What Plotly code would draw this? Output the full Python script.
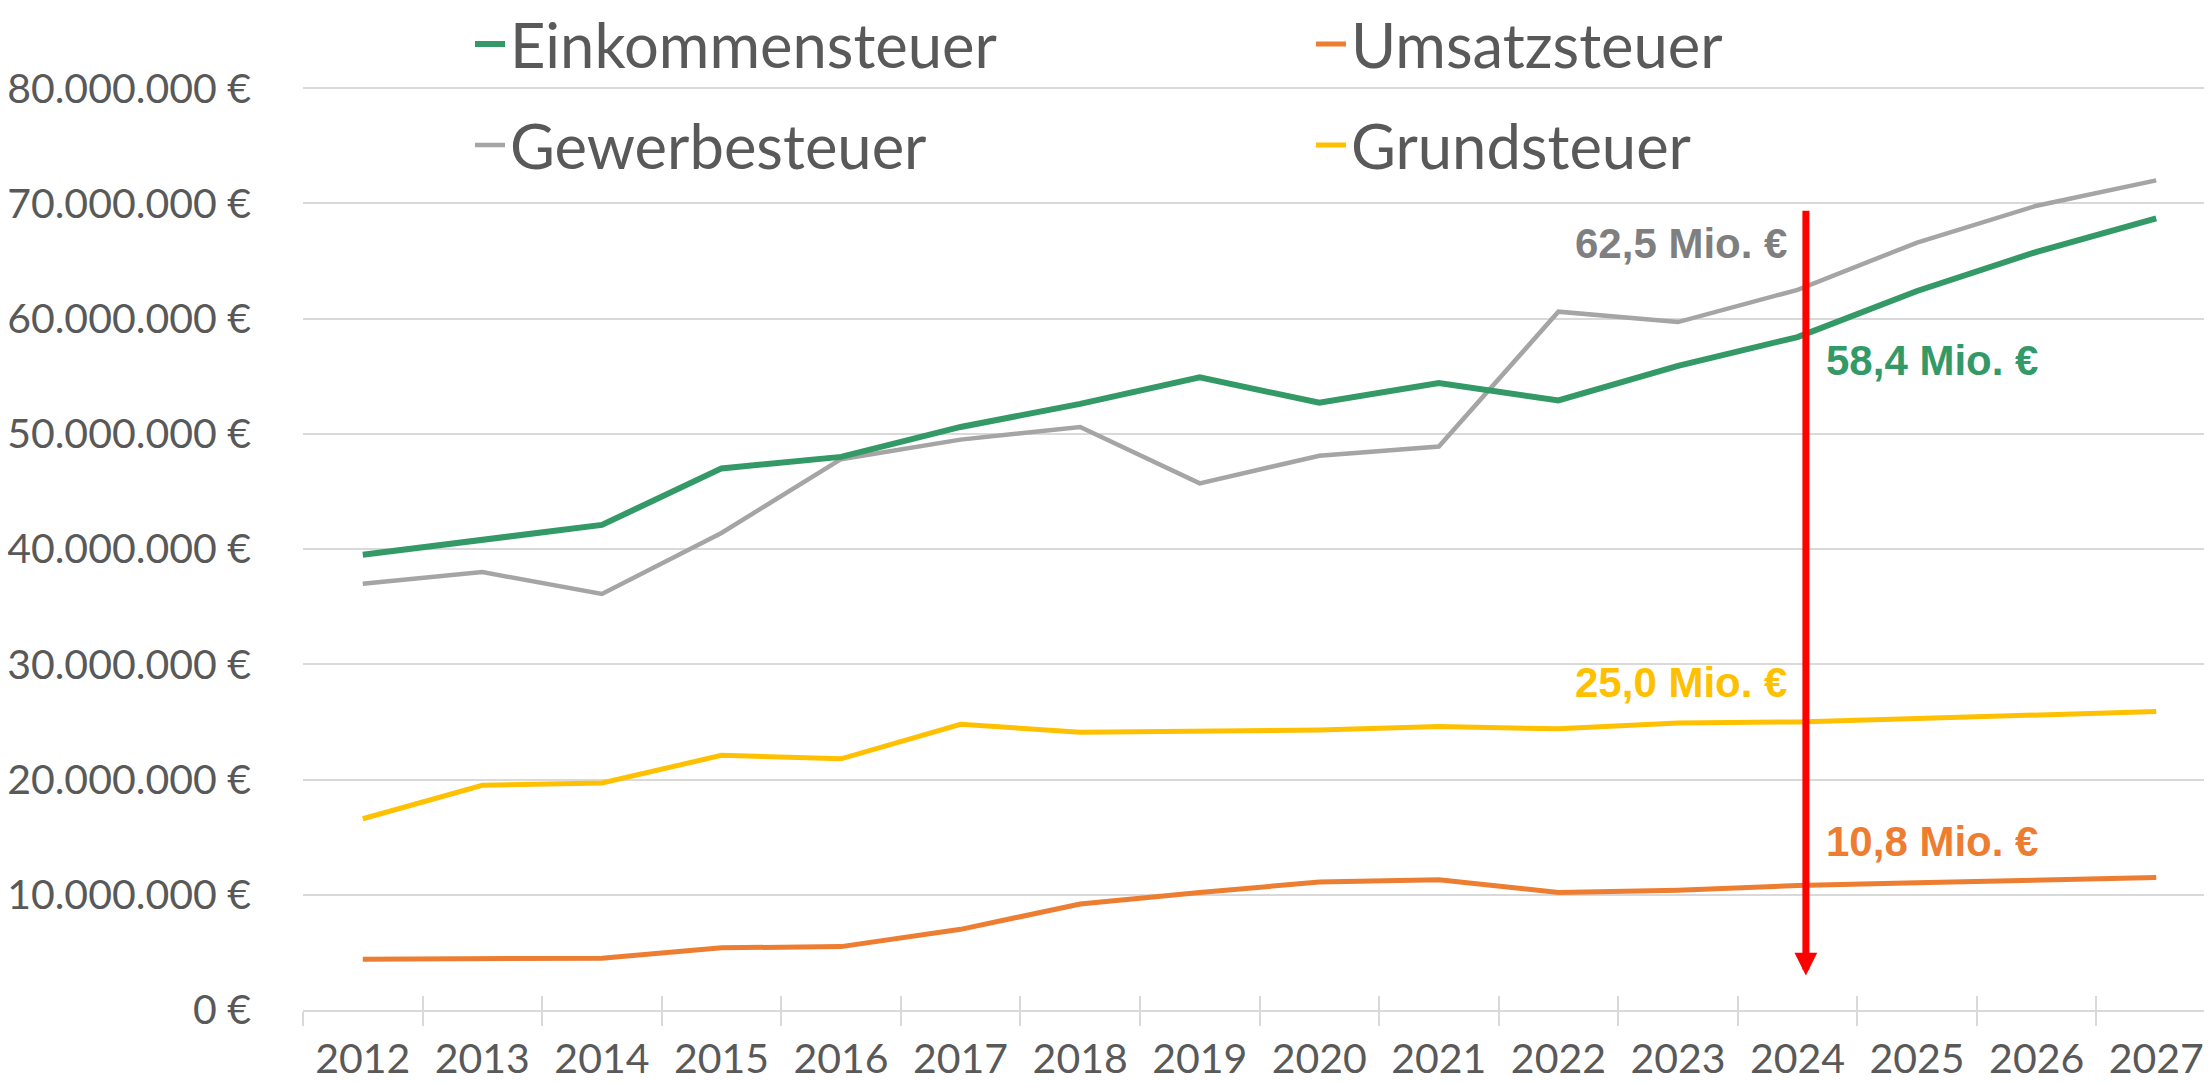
import plotly.graph_objects as go

years = [str(y) for y in range(2012, 2028)]
einkommensteuer = [39.5, 40.8, 42.1, 47.0, 48.0, 50.6, 52.6, 54.9, 52.7, 54.4, 52.9, 55.9, 58.4, 62.4, 65.8, 68.7]
umsatzsteuer = [4.4, 4.45, 4.5, 5.4, 5.5, 7.0, 9.2, 10.2, 11.1, 11.3, 10.2, 10.4, 10.8, 11.05, 11.3, 11.5]
gewerbesteuer = [37.0, 38.0, 36.1, 41.4, 47.8, 49.5, 50.6, 45.7, 48.1, 48.9, 60.6, 59.7, 62.5, 66.6, 69.8, 72.0]
grundsteuer = [16.6, 19.5, 19.7, 22.1, 21.8, 24.8, 24.1, 24.2, 24.3, 24.6, 24.4, 24.9, 25.0, 25.3, 25.6, 25.9]
y_ticks = [0, 10, 20, 30, 40, 50, 60, 70, 80]
y_tick_labels = ["0 €", "10.000.000 €", "20.000.000 €", "30.000.000 €", "40.000.000 €",
                 "50.000.000 €", "60.000.000 €", "70.000.000 €", "80.000.000 €"]

MIO = 1_000_000
GREEN = "#339966"
ORANGE = "#ED7D31"
GRAY = "#A5A5A5"
YELLOW = "#FFC000"
TXT = "#595959"
FONT = "Lato, 'Noto Sans', sans-serif"
NARROW = "'Liberation Sans Narrow', 'Arial Narrow', 'Liberation Sans', sans-serif"

fig = go.Figure()
series = [
    ("Einkommensteuer", einkommensteuer, GREEN, 6, "legend"),
    ("Umsatzsteuer", umsatzsteuer, ORANGE, 5, "legend2"),
    ("Gewerbesteuer", gewerbesteuer, GRAY, 4.5, "legend3"),
    ("Grundsteuer", grundsteuer, YELLOW, 5, "legend4"),
]
# draw order: gray below green
for name, vals, col, w, lg in [series[2], series[3], series[1], series[0]]:
    fig.add_trace(go.Scatter(
        x=years, y=[v * MIO for v in vals], name=name, mode="lines",
        line=dict(color=col, width=w), legend=lg, xaxis="x", yaxis="y"))

# invisible trace for the crossing tick marks on an overlay axis
fig.add_trace(go.Scatter(x=years, y=[None] * len(years), xaxis="x2", yaxis="y",
                         showlegend=False, hoverinfo="skip"))

leg_common = dict(orientation="h", xref="container", yref="container", xanchor="left",
                  yanchor="middle", font=dict(family=FONT, size=61.5, color=TXT),
                  bgcolor="rgba(0,0,0,0)", itemwidth=30)
col1_x = 462 / 2212
col2_x = 1303 / 2212
row1_y = 1 - 36 / 1084
row2_y = 1 - 137 / 1084

fig.update_layout(
    width=2212, height=1084,
    margin=dict(l=295, r=4, t=79, b=82, autoexpand=False),
    plot_bgcolor="white", paper_bgcolor="white",
    legend=dict(x=col1_x, y=row1_y, **leg_common),
    legend2=dict(x=col2_x, y=row1_y, **leg_common),
    legend3=dict(x=col1_x, y=row2_y, **leg_common),
    legend4=dict(x=col2_x, y=row2_y, **leg_common),
    xaxis=dict(type="category", range=[-0.5, 15.5], showgrid=False,
               showline=True, linecolor="#D9D9D9", linewidth=2,
               ticks="outside", tickson="boundaries", ticklen=14, tickcolor="#D9D9D9", tickwidth=2,
               tickfont=dict(family=FONT, size=41, color=TXT), ticklabelstandoff=12),
    xaxis2=dict(type="category", range=[-0.5, 15.5], overlaying="x", matches="x",
                anchor="y", side="bottom", showgrid=False, showline=False,
                ticks="inside", tickson="boundaries", ticklen=14, tickcolor="#D9D9D9", tickwidth=2,
                showticklabels=False),
    yaxis=dict(range=[0, 80.1 * MIO], tickvals=[v * MIO for v in y_ticks], ticktext=y_tick_labels,
               showgrid=True, gridcolor="#D9D9D9", gridwidth=2, zeroline=False,
               showline=False, ticks="",
               tickfont=dict(family=FONT, size=41, color=TXT), ticklabelstandoff=51),
    showlegend=True,
)

# red arrow at 2024
idx = years.index("2024")
fig.add_annotation(x=idx + 0.07, y=3.0 * MIO, ax=idx + 0.07, ay=69.5 * MIO,
                   xref="x", yref="y", axref="x", ayref="y", text="",
                   showarrow=True, arrowhead=2, arrowsize=0.65, arrowwidth=7, arrowcolor="#FF0000")

labels = [
    ("62,5 Mio. €", gewerbesteuer[idx], "#7F7F7F", idx - 0.07, 66.5, "right"),
    ("58,4 Mio. €", einkommensteuer[idx], GREEN, idx + 0.22, 56.35, "left"),
    ("25,0 Mio. €", grundsteuer[idx], YELLOW, idx - 0.07, 28.45, "right"),
    ("10,8 Mio. €", umsatzsteuer[idx], ORANGE, idx + 0.22, 14.58, "left"),
]
for text, val, col, x, y, anchor in labels:
    fig.add_annotation(x=x, y=y * MIO, xref="x", yref="y", text="<b>%s</b>" % text,
                       showarrow=False, xanchor=anchor, yanchor="middle",
                       font=dict(family=NARROW, size=42, color=col))

fig.write_html("out.html")
